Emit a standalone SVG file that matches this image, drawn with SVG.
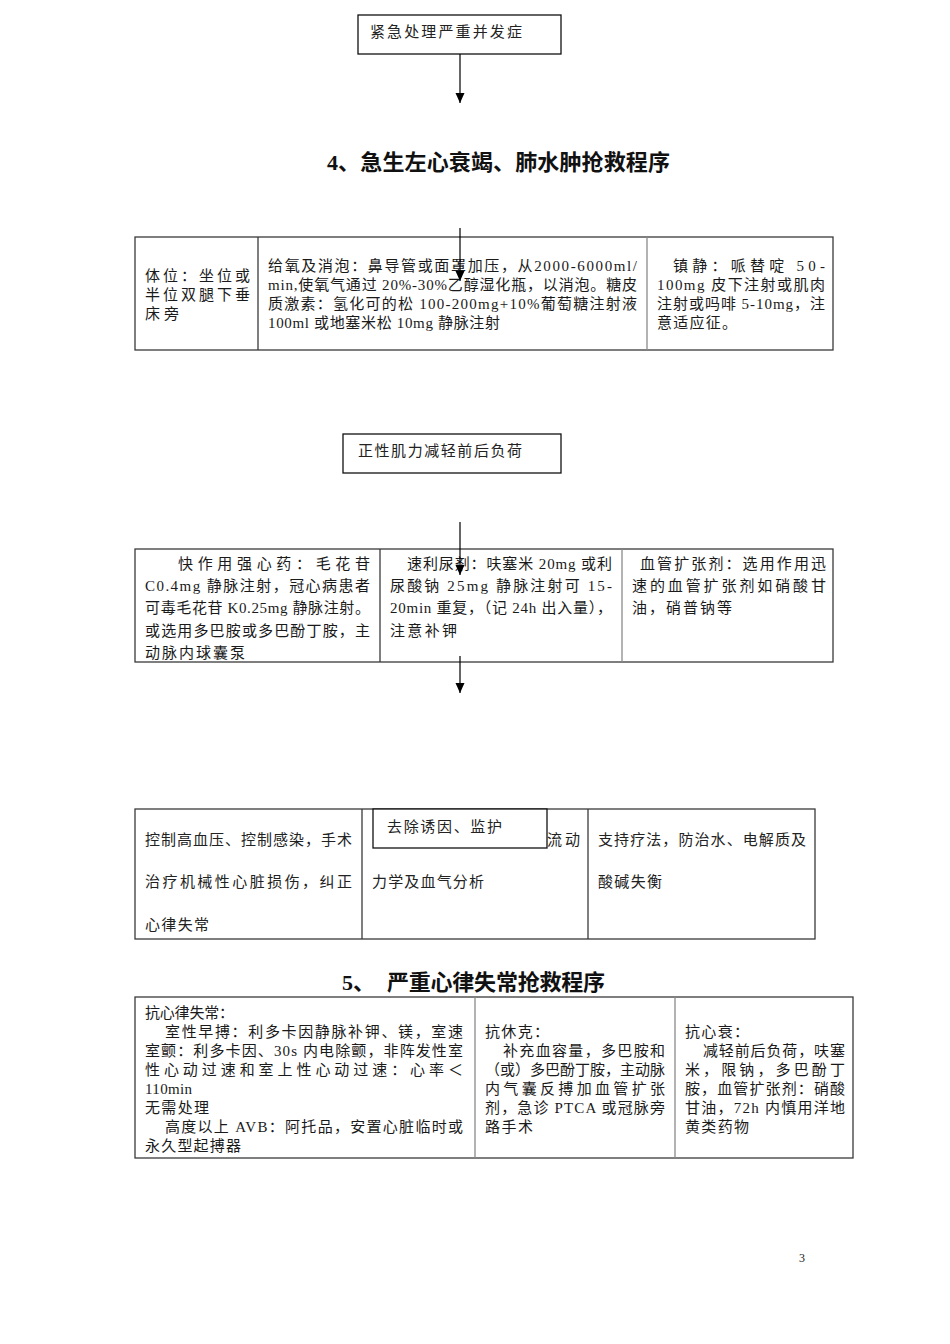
<svg xmlns="http://www.w3.org/2000/svg" width="950" height="1344" viewBox="0 0 950 1344">
<style>
.t{font-family:"Liberation Serif","Noto Sans CJK SC",serif;font-size:15px;fill:#1a1a1a}
.b{font-family:"Noto Sans CJK SC",sans-serif;font-size:15px;fill:#222}
.h{font-family:"Liberation Serif","Noto Sans CJK SC",sans-serif;font-size:22px;font-weight:bold;fill:#111}
.box{fill:#fff;stroke:#111;stroke-width:1.3}
.cell{fill:none;stroke:#3a3a3a;stroke-width:1.3}
.dk{stroke:#3a3a3a;stroke-width:1.3}
.gr{stroke:#8a8a8a;stroke-width:1.3}
.cn{stroke:#000;stroke-width:1.2;fill:none}
</style>
<defs>
<marker id="ah" markerUnits="userSpaceOnUse" markerWidth="10" markerHeight="10" refX="10" refY="4.5" orient="auto">
<path d="M0,0 L10,4.5 L0,9 z" fill="#000"/>
</marker>
</defs>
<rect width="950" height="1344" fill="#fff"/>

<g id="box1">
<rect class="box" x="358" y="15" width="203" height="39"/>
<text class="b" x="370" y="37" textLength="152" lengthAdjust="spacing">紧急处理严重并发症</text>
</g>

<g id="title4">
<text class="h" x="327" y="170" textLength="343" lengthAdjust="spacing">4、急生左心衰竭、肺水肿抢救程序</text>
</g>

<g id="table1">
<rect class="cell" x="135" y="237" width="698" height="113"/>
<line class="dk" x1="258" y1="237" x2="258" y2="350"/>
<line class="gr" x1="647" y1="237" x2="647" y2="350"/>
<text class="t" x="145" y="281" textLength="105" lengthAdjust="spacing">体位：坐位或</text>
<text class="t" x="145" y="300" textLength="105" lengthAdjust="spacing">半位双腿下垂</text>
<text class="t" x="145" y="319" textLength="34" lengthAdjust="spacing">床旁</text>
<text class="t" x="268" y="271" textLength="369" lengthAdjust="spacing">给氧及消泡：鼻导管或面罩加压，从2000-6000ml/</text>
<text class="t" x="268" y="290" textLength="369" lengthAdjust="spacing">min,使氧气通过 20%-30%乙醇湿化瓶，以消泡。糖皮</text>
<text class="t" x="268" y="309" textLength="369" lengthAdjust="spacing">质激素：氢化可的松 100-200mg+10%葡萄糖注射液</text>
<text class="t" x="268" y="328" textLength="232" lengthAdjust="spacing">100ml 或地塞米松 10mg 静脉注射</text>
<text class="t" x="673" y="271" textLength="152" lengthAdjust="spacing">镇静：哌替啶 50-</text>
<text class="t" x="657" y="290" textLength="168" lengthAdjust="spacing">100mg 皮下注射或肌肉</text>
<text class="t" x="657" y="309" textLength="168" lengthAdjust="spacing">注射或吗啡 5-10mg，注</text>
<text class="t" x="657" y="328" textLength="80" lengthAdjust="spacing">意适应征。</text>
</g>

<g id="box2">
<rect class="box" x="343" y="434" width="218" height="39"/>
<text class="b" x="358" y="456" textLength="164" lengthAdjust="spacing">正性肌力减轻前后负荷</text>
</g>

<g id="table2">
<rect class="cell" x="135" y="549" width="698" height="113"/>
<line class="dk" x1="380" y1="549" x2="380" y2="662"/>
<line class="gr" x1="622" y1="549" x2="622" y2="662"/>
<text class="t" x="178" y="569" textLength="192" lengthAdjust="spacing">快作用强心药：毛花苷</text>
<text class="t" x="145" y="591" textLength="225" lengthAdjust="spacing">C0.4mg 静脉注射，冠心病患者</text>
<text class="t" x="145" y="613" textLength="225" lengthAdjust="spacing">可毒毛花苷 K0.25mg 静脉注射。</text>
<text class="t" x="145" y="636" textLength="225" lengthAdjust="spacing">或选用多巴胺或多巴酚丁胺，主</text>
<text class="t" x="145" y="658" textLength="100" lengthAdjust="spacing">动脉内球囊泵</text>
<text class="t" x="407" y="569" textLength="205" lengthAdjust="spacing">速利尿剂：呋塞米 20mg 或利</text>
<text class="t" x="390" y="591" textLength="222" lengthAdjust="spacing">尿酸钠 25mg 静脉注射可 15-</text>
<text class="t" x="390" y="613" textLength="222" lengthAdjust="spacing">20min 重复，（记 24h 出入量），</text>
<text class="t" x="390" y="636" textLength="67" lengthAdjust="spacing">注意补钾</text>
<text class="t" x="640" y="569" textLength="186" lengthAdjust="spacing">血管扩张剂：选用作用迅</text>
<text class="t" x="632" y="591" textLength="194" lengthAdjust="spacing">速的血管扩张剂如硝酸甘</text>
<text class="t" x="632" y="613" textLength="100" lengthAdjust="spacing">油，硝普钠等</text>
</g>

<g id="table3">
<rect class="cell" x="135" y="809" width="680" height="130"/>
<line class="dk" x1="362" y1="809" x2="362" y2="939"/>
<line class="dk" x1="588" y1="809" x2="588" y2="939"/>
<text class="b" x="145" y="845" textLength="207" lengthAdjust="spacing">控制高血压、控制感染，手术</text>
<text class="b" x="145" y="887" textLength="207" lengthAdjust="spacing">治疗机械性心脏损伤，纠正</text>
<text class="b" x="145" y="930" textLength="64" lengthAdjust="spacing">心律失常</text>
<text class="b" x="547" y="845" textLength="33" lengthAdjust="spacing">流动</text>
<text class="b" x="372" y="887" textLength="112" lengthAdjust="spacing">力学及血气分析</text>
<text class="b" x="598" y="845" textLength="208" lengthAdjust="spacing">支持疗法，防治水、电解质及</text>
<text class="b" x="598" y="887" textLength="64" lengthAdjust="spacing">酸碱失衡</text>
</g>

<g id="box3">
<rect class="box" x="373" y="809" width="174" height="39"/>
<text class="b" x="387" y="832" textLength="115" lengthAdjust="spacing">去除诱因、监护</text>
</g>

<g id="title5">
<text class="h" x="342" y="990">5、</text>
<text class="h" x="387" y="990" textLength="218" lengthAdjust="spacing">严重心律失常抢救程序</text>
</g>

<g id="table4">
<rect class="cell" x="135" y="997" width="718" height="161"/>
<line class="gr" x1="475" y1="997" x2="475" y2="1158"/>
<line class="gr" x1="675" y1="997" x2="675" y2="1158"/>
<text class="t" x="145" y="1018" textLength="89" lengthAdjust="spacing">抗心律失常：</text>
<text class="t" x="165" y="1037" textLength="298" lengthAdjust="spacing">室性早搏：利多卡因静脉补钾、镁，室速</text>
<text class="t" x="145" y="1056" textLength="318" lengthAdjust="spacing">室颤：利多卡因、30s 内电除颤，非阵发性室</text>
<text class="t" x="145" y="1075" textLength="318" lengthAdjust="spacing">性心动过速和室上性心动过速：心率＜</text>
<text class="t" x="145" y="1094" textLength="47" lengthAdjust="spacing">110min</text>
<text class="t" x="145" y="1113" textLength="64" lengthAdjust="spacing">无需处理</text>
<text class="t" x="165" y="1132" textLength="298" lengthAdjust="spacing">高度以上 AVB：阿托品，安置心脏临时或</text>
<text class="t" x="145" y="1151" textLength="96" lengthAdjust="spacing">永久型起搏器</text>
<text class="t" x="485" y="1037" textLength="64" lengthAdjust="spacing">抗休克：</text>
<text class="t" x="503" y="1056" textLength="162" lengthAdjust="spacing">补充血容量，多巴胺和</text>
<text class="t" x="485" y="1075" textLength="180" lengthAdjust="spacing">（或）多巴酚丁胺，主动脉</text>
<text class="t" x="485" y="1094" textLength="180" lengthAdjust="spacing">内气囊反搏加血管扩张</text>
<text class="t" x="485" y="1113" textLength="180" lengthAdjust="spacing">剂，急诊 PTCA 或冠脉旁</text>
<text class="t" x="485" y="1132" textLength="48" lengthAdjust="spacing">路手术</text>
<text class="t" x="685" y="1037" textLength="64" lengthAdjust="spacing">抗心衰：</text>
<text class="t" x="703" y="1056" textLength="142" lengthAdjust="spacing">减轻前后负荷，呋塞</text>
<text class="t" x="685" y="1075" textLength="160" lengthAdjust="spacing">米，限钠，多巴酚丁</text>
<text class="t" x="685" y="1094" textLength="160" lengthAdjust="spacing">胺，血管扩张剂：硝酸</text>
<text class="t" x="685" y="1113" textLength="160" lengthAdjust="spacing">甘油，72h 内慎用洋地</text>
<text class="t" x="685" y="1132" textLength="64" lengthAdjust="spacing">黄类药物</text>
</g>

<g id="pagenum">
<text x="799" y="1262" style="font-family:'Liberation Serif',serif;font-size:12px;fill:#222">3</text>
</g>

<g id="connectors">
<line class="cn" x1="460" y1="54" x2="460" y2="103" marker-end="url(#ah)"/>
<line class="cn" x1="460" y1="228" x2="460" y2="281" marker-end="url(#ah)"/>
<line class="cn" x1="460" y1="522" x2="460" y2="575" marker-end="url(#ah)"/>
<line class="cn" x1="460" y1="656" x2="460" y2="693" marker-end="url(#ah)"/>
</g>
</svg>
